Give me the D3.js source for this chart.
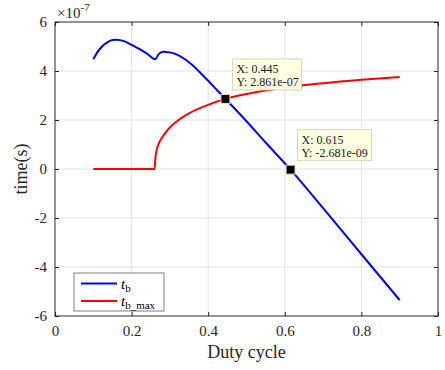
<!DOCTYPE html>
<html>
<head>
<meta charset="utf-8">
<script src="https://cdn.jsdelivr.net/npm/d3@7"></script>
<style>
  body { margin: 0; background: #fff; }
  svg text { font-family: "Liberation Serif", "Times New Roman", serif; }
</style>
</head>
<body>
<div id="chart"></div>
<script>
// values in units of 1e-7 s
var dutyB = [0.10, 0.11, 0.12, 0.13, 0.14, 0.15, 0.16, 0.17, 0.18, 0.20, 0.22, 0.24, 0.262,
             0.27, 0.283, 0.30, 0.32, 0.344, 0.36, 0.38, 0.40, 0.42, 0.445, 0.50, 0.55, 0.615, 0.70, 0.80, 0.90];
var tb    = [4.48, 4.75, 4.95, 5.10, 5.20, 5.27, 5.28, 5.26, 5.22, 5.07, 4.90, 4.71, 4.48,
             4.68, 4.79, 4.76, 4.66, 4.43, 4.22, 3.92, 3.60, 3.27, 2.861, 1.95, 1.08, -0.027, -1.60, -3.48, -5.35];
var dutyR = [0.10, 0.26, 0.262, 0.265, 0.27, 0.28, 0.29, 0.30, 0.32, 0.35, 0.40, 0.445,
             0.50, 0.55, 0.60, 0.70, 0.80, 0.90];
var tbMax = [0, 0, 0.45, 0.75, 1.0, 1.3, 1.52, 1.70, 1.97, 2.27, 2.62, 2.861,
             3.06, 3.20, 3.33, 3.50, 3.64, 3.76];
var tips = [{x: 0.445, y: 2.861, lx: "X: 0.445", ly: "Y: 2.861e-07"},
            {x: 0.615, y: -0.02681, lx: "X: 0.615", ly: "Y: -2.681e-09"}];
var xTicks = [0, 0.2, 0.4, 0.6, 0.8, 1];
var yTicks = [-6, -4, -2, 0, 2, 4, 6];

var width = 445, height = 370;
var m = {top: 22, right: 7, bottom: 54, left: 55};
var ink = "#262626";
var serif = "'Liberation Serif', 'Times New Roman', serif";

var svg = d3.select("#chart").append("svg")
    .attr("width", width).attr("height", height);

var x = d3.scaleLinear().domain([0, 1]).range([m.left, width - m.right]);
var y = d3.scaleLinear().domain([-6, 6]).range([height - m.bottom, m.top]);

// grid
svg.append("g").selectAll("line").data(xTicks.slice(1, -1)).enter().append("line")
    .attr("x1", d => x(d)).attr("x2", d => x(d))
    .attr("y1", y(-6)).attr("y2", y(6))
    .style("stroke", "#e4e4e4").style("stroke-width", 1);
svg.append("g").selectAll("line").data(yTicks.slice(1, -1)).enter().append("line")
    .attr("y1", d => y(d)).attr("y2", d => y(d))
    .attr("x1", x(0)).attr("x2", x(1))
    .style("stroke", "#e4e4e4").style("stroke-width", 1);

// axes, ticks pointing inward
var fmt = d => String(d);
function styleAxis(g) {
    g.attr("font-family", serif).attr("font-size", 15);
    g.select(".domain").remove();
    g.selectAll(".tick line").style("stroke", ink);
    g.selectAll(".tick text").style("fill", ink)
        .style("font-family", serif).style("font-size", "15px");
}
svg.append("g")
    .attr("transform", "translate(0," + y(-6) + ")")
    .call(d3.axisBottom(x).tickValues(xTicks).tickFormat(fmt).tickSize(-4).tickPadding(9))
    .call(styleAxis);
svg.append("g")
    .attr("transform", "translate(0," + y(6) + ")")
    .call(d3.axisTop(x).tickValues(xTicks).tickFormat("").tickSize(-4))
    .call(styleAxis);
svg.append("g")
    .attr("transform", "translate(" + x(0) + ",0)")
    .call(d3.axisLeft(y).tickValues(yTicks).tickFormat(fmt).tickSize(-4).tickPadding(8))
    .call(styleAxis);
svg.append("g")
    .attr("transform", "translate(" + x(1) + ",0)")
    .call(d3.axisRight(y).tickValues(yTicks).tickFormat("").tickSize(-4))
    .call(styleAxis);

svg.append("rect")
    .attr("x", x(0)).attr("y", y(6))
    .attr("width", x(1) - x(0)).attr("height", y(-6) - y(6))
    .style("fill", "none").style("stroke", ink).style("stroke-width", 1);

// exponent
var ex = svg.append("text").attr("x", x(0) + 2).attr("y", 18)
    .style("fill", ink).style("font-family", serif).style("font-size", "15px");
ex.append("tspan").text("\u00d710");
ex.append("tspan").attr("dy", -7).style("font-size", "11px").text("-7");

// labels
svg.append("text")
    .attr("x", (x(0) + x(1)) / 2).attr("y", 358)
    .attr("text-anchor", "middle")
    .style("fill", ink).style("font-size", "18px")
    .text("Duty cycle");
svg.append("text")
    .attr("transform", "translate(27," + y(0) + ") rotate(-90)")
    .attr("text-anchor", "middle")
    .style("fill", ink).style("font-size", "18px")
    .text("time(s)");

// lines
var line = d3.line()
    .curve(d3.curveMonotoneX)
    .x(d => x(d[0]))
    .y(d => y(d[1]));

svg.append("path")
    .datum(dutyB.map((d, i) => [d, tb[i]]))
    .attr("d", line)
    .style("fill", "none").style("stroke", "#0000ff").style("stroke-width", 2);
svg.append("path")
    .datum(dutyR.map((d, i) => [d, tbMax[i]]))
    .attr("d", line)
    .style("fill", "none").style("stroke", "#ff0000").style("stroke-width", 2);

// data tips
var tip = svg.selectAll(".tip").data(tips).enter().append("g").attr("class", "tip");
tip.append("rect")
    .attr("x", d => x(d.x) + 7).attr("y", d => y(d.y) - 40)
    .attr("width", (d, i) => i == 0 ? 69 : 74).attr("height", 31)
    .style("fill", "#ffffe1").style("stroke", "#d6d6c2").style("stroke-width", 1);
tip.append("text")
    .attr("x", d => x(d.x) + 11).attr("y", d => y(d.y) - 26)
    .style("font-size", "12px").style("fill", "#1a1a1a")
    .text(d => d.lx);
tip.append("text")
    .attr("x", d => x(d.x) + 11).attr("y", d => y(d.y) - 13)
    .style("font-size", "12px").style("fill", "#1a1a1a")
    .text(d => d.ly);
tip.append("rect")
    .attr("x", d => x(d.x) - 4.5).attr("y", d => y(d.y) - 4.5)
    .attr("width", 9).attr("height", 9)
    .style("fill", "#000").style("stroke", "#e8e8c0").style("stroke-width", 1);

// legend
var lg = svg.append("g").attr("transform", "translate(74,273)");
lg.append("rect").attr("width", 90).attr("height", 38)
    .style("fill", "#fff").style("stroke", "#7f7f7f").style("stroke-width", 1);
var items = [{c: "#0000ff", sub: "b"}, {c: "#ff0000", sub: "b_max"}];
items.forEach(function(it, i) {
    var yy = 10.5 + i * 17.5;
    lg.append("line").attr("x1", 7).attr("x2", 43).attr("y1", yy).attr("y2", yy)
        .style("stroke", it.c).style("stroke-width", 2);
    var t = lg.append("text").attr("x", 47).attr("y", yy + 5)
        .style("fill", "#000").style("font-size", "15px");
    t.append("tspan").style("font-style", "italic").text("t");
    t.append("tspan").attr("dy", 3).style("font-size", "11px").text(it.sub);
});
</script>
</body>
</html>
